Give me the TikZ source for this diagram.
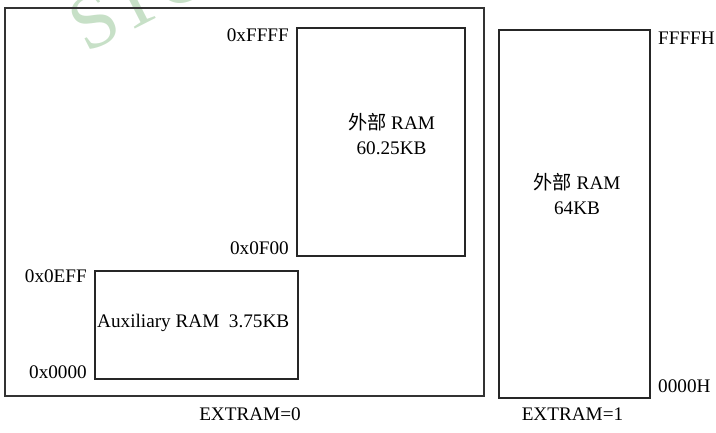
\documentclass[tikz,border=0pt]{standalone}
\usepackage{fontspec}
\setmainfont{Liberation Serif}
\newfontfamily\cjk{Noto Sans CJK SC}
\begin{document}
\begin{tikzpicture}[x=1pt,y=-1pt,
  box/.style={draw=black!85,line width=1.1pt,minimum width=#1},
  lbl/.style={inner sep=0pt,font=\fontsize{19.2}{25}\selectfont},
  wm/.style={inner sep=0pt,font=\fontsize{78}{80}\selectfont,text=green!45!black!22}]
\useasboundingbox (0,0) rectangle (716,433);
\begin{scope}
\clip (0,0) rectangle (716,433);
\node[wm,rotate=27,anchor=base west] (wmark) at (86,54) {STC};
\end{scope}
\node[draw=black!80,line width=2pt,minimum width=479pt,minimum height=388pt,inner sep=0pt] (outer) at (244.5,202) {};
\node[box=168pt,minimum height=228pt,inner sep=0pt] (upper) at (381,142) {};
\node[box=203pt,minimum height=108pt,inner sep=0pt] (aux) at (196.5,325) {};
\node[box=151pt,minimum height=368pt,inner sep=0pt] (right) at (574.5,214) {};
% labels
\node[lbl,anchor=base east] (ffff) at (289,42) {0xFFFF};
\node[lbl,anchor=base east] (f00) at (289,255) {0x0F00};
\node[lbl,anchor=base east] (eff) at (87,283) {0x0EFF};
\node[lbl,anchor=base east] (zero) at (87,378) {0x0000};
\node[lbl,anchor=base west] (auxl) at (97,327) {Auxiliary RAM\ \ 3.75KB};
\node[lbl,anchor=base] (up1) at (391.5,130) {{\cjk 外部} RAM};
\node[lbl,anchor=base] (up2) at (391.5,155) {60.25KB};
\node[lbl,anchor=base] (r1) at (577,190) {{\cjk 外部} RAM};
\node[lbl,anchor=base] (r2) at (577,215) {64KB};
\node[lbl,anchor=base west] (rffff) at (658,45) {FFFFH};
\node[lbl,anchor=base west] (rzero) at (658,392) {0000H};
\node[lbl,anchor=base] (ex0) at (250,420) {EXTRAM=0};
\node[lbl,anchor=base] (ex1) at (572.5,420) {EXTRAM=1};
\end{tikzpicture}
\end{document}
